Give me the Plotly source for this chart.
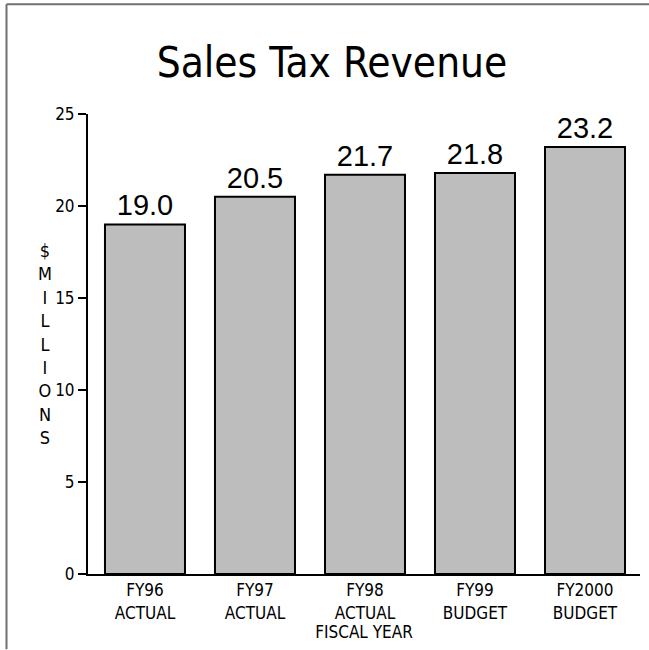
import plotly.graph_objects as go

# Sales tax revenue by fiscal year, $ millions
categories = ["FY96<br>ACTUAL", "FY97<br>ACTUAL", "FY98<br>ACTUAL", "FY99<br>BUDGET", "FY2000<br>BUDGET"]
revenue = [19.0, 20.5, 21.7, 21.8, 23.2]
y_ticks = [0, 5, 10, 15, 20, 25]
y_title_letters = list("$MILLIONS")

NARROW = "DejaVu Sans Condensed, Arial Narrow, sans-serif"
REGULAR = "Liberation Sans, Arial, sans-serif"

W, H = 649, 650
L, R, T, B = 88, 9, 113.5, 75.5
pw, ph = W - L - R, H - T - B

def px_x(x):
    return (x - L) / pw

def px_y(y):
    return (H - B - y) / ph

fig = go.Figure()
fig.add_trace(go.Bar(
    x=list(range(len(categories))),
    y=revenue,
    marker=dict(color="#bdbdbd", line=dict(color="black", width=2)),
    text=[f"{v:.1f}" for v in revenue],
    textposition="outside",
    textfont=dict(family=REGULAR, size=29, color="black"),
    cliponaxis=False,
    hoverinfo="skip",
))

fig.update_layout(
    width=W, height=H,
    margin=dict(l=L, r=R, t=T, b=B, autoexpand=False),
    paper_bgcolor="white", plot_bgcolor="white",
    showlegend=False,
    bargap=0.2727,
    title=dict(
        text="Sales Tax Revenue",
        font=dict(family=NARROW, size=42, color="black"),
        xref="container", yref="container",
        x=332 / W, y=1 - 62 / H, xanchor="center", yanchor="middle",
    ),
    xaxis=dict(
        tickmode="array",
        tickvals=list(range(len(categories))),
        ticktext=categories,
        range=[-0.518, 4.5],
        showline=True, linecolor="black", linewidth=2,
        ticks="", showgrid=False, zeroline=False,
        tickfont=dict(family=NARROW, size=17, color="black"),
        title=dict(text="FISCAL YEAR", font=dict(family=NARROW, size=17, color="black"), standoff=2),
    ),
    yaxis=dict(
        range=[0, 25],
        tickmode="array", tickvals=y_ticks,
        showline=True, linecolor="black", linewidth=2,
        ticks="outside", ticklen=8, tickwidth=1.5, tickcolor="black",
        showgrid=False, zeroline=False,
        tickfont=dict(family=NARROW, size=17, color="black"),
    ),
)

# stacked vertical axis caption
fig.add_annotation(
    text="<br>".join(y_title_letters),
    xref="paper", yref="paper", x=px_x(45), y=0.5,
    xanchor="center", yanchor="middle", showarrow=False,
    font=dict(family=NARROW, size=18, color="black"),
)

# frame lines along the top and left edges of the page
frame = dict(color="#707070", width=2)
fig.add_shape(type="line", xref="paper", yref="paper",
              x0=px_x(6.5), x1=px_x(649), y0=px_y(3.5), y1=px_y(3.5), line=frame)
fig.add_shape(type="line", xref="paper", yref="paper",
              x0=px_x(6.5), x1=px_x(6.5), y0=px_y(3.5), y1=px_y(650), line=frame)

fig.write_html("out.html", config={"displayModeBar": False})
